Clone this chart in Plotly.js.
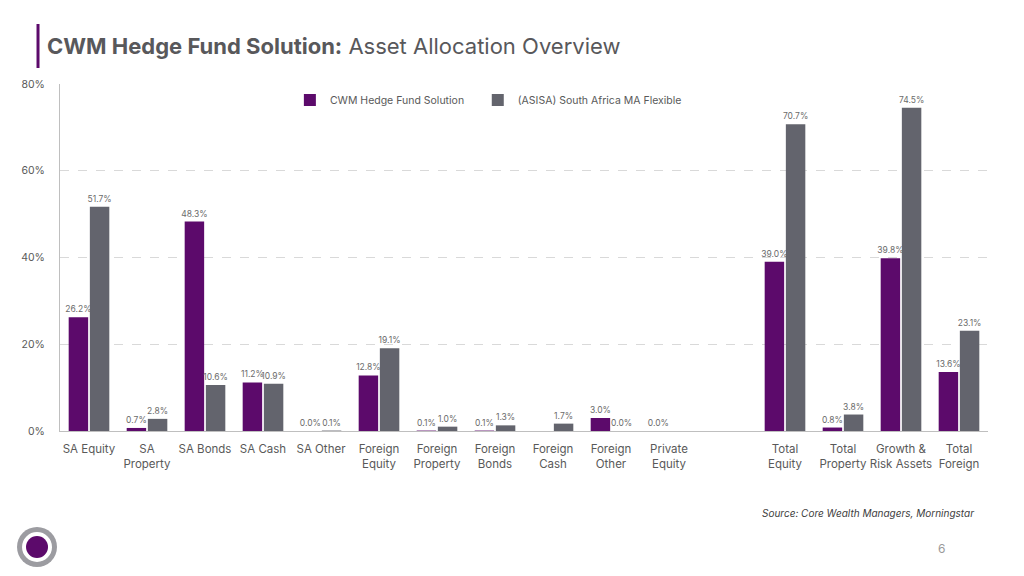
<!DOCTYPE html>
<html><head><meta charset="utf-8">
<script src="https://cdn.plot.ly/plotly-3.0.1.min.js"></script>
<style>body{margin:0;background:#fff}#c{width:1024px;height:576px}</style>
</head><body><div id="c"></div>
<script>
const categories = ["SA Equity","SA<br>Property","SA Bonds","SA Cash","SA Other","Foreign<br>Equity","Foreign<br>Property","Foreign<br>Bonds","Foreign<br>Cash","Foreign<br>Other","Private<br>Equity","","Total<br>Equity","Total<br>Property","Growth &<br>Risk Assets","Total<br>Foreign"];
const cwm =   [26.2, 0.7, 48.3, 11.2, 0.0, 12.8, 0.1, 0.1, null, 3.0, 0.0, null, 39.0, 0.8, 39.8, 13.6];
const asisa = [51.7, 2.8, 10.6, 10.9, 0.1, 19.1, 1.0, 1.3, 1.7, 0.0, null, null, 70.7, 3.8, 74.5, 23.1];
const seriesNames = ["CWM Hedge Fund Solution","(ASISA) South Africa MA Flexible"];
const yTicks = [0,20,40,60,80];

const xs = categories.map((c,i)=>i);
const font = "Inter, 'Noto Sans', sans-serif";
const L=60, R=988.5, T=84, B=431;
const px = v => (v-L)/(R-L), py = v => (B-v)/(B-T);

function tr(name, vals, color, lg){
  return {type:'bar', name:name, x:xs, y:vals, marker:{color:color}, legend:lg,
    text: vals.map(v=> v===null? '' : v.toFixed(1)+'%'), textposition:'outside', constraintext:'none',
    textfont:{size:8.5,color:'#6b6b6b',family:font}, cliponaxis:false, hoverinfo:'skip'};
}
const data=[tr(seriesNames[0],cwm,'#5c0a6b','legend'), tr(seriesNames[1],asisa,'#63646d','legend2')];
const legBase = {orientation:'h',xanchor:'left',y:py(100),yanchor:'middle',font:{size:10.5,color:'#595959'},bgcolor:'rgba(0,0,0,0)'};

const layout={
  width:1024,height:576,paper_bgcolor:'#fff',plot_bgcolor:'#fff',
  margin:{l:L,r:1024-R,t:T,b:576-B},
  font:{family:font,color:'#595959'},
  barmode:'group',bargap:0.27,bargroupgap:0.08,
  title:{text:"<b>CWM Hedge Fund Solution:</b> Asset Allocation Overview",x:47/1024,xanchor:'left',xref:'container',y:1-46/576,yanchor:'middle',yref:'container',font:{size:22,color:'#58585b',family:font}},
  showlegend:true,
  legend:Object.assign({x:px(290)},legBase),
  legend2:Object.assign({x:px(478)},legBase),
  xaxis:{range:[-0.5,categories.length-0.5],tickmode:'array',tickvals:xs,ticktext:categories,tickfont:{size:11.5,color:'#595959'},ticklabelstandoff:7,showgrid:false,zeroline:false,showline:true,linecolor:'#bfbfbf',linewidth:1,ticks:'',fixedrange:true},
  yaxis:{range:[0,80],tickvals:yTicks,ticktext:yTicks.map(v=>v+'%'),tickfont:{size:10.5,color:'#595959'},showgrid:true,gridcolor:'#d9d9d9',griddash:'dash',gridwidth:1,zeroline:false,showline:true,linecolor:'#bfbfbf',ticks:'',ticklabelstandoff:12},
  shapes:[
    {type:'line',xref:'paper',yref:'paper',x0:px(38),x1:px(38),y0:py(24),y1:py(68),line:{color:'#5c0a6b',width:3}},
    {type:'circle',xref:'paper',yref:'paper',x0:px(17),x1:px(57),y0:py(527),y1:py(567),fillcolor:'#9c9ca1',line:{width:0}},
    {type:'circle',xref:'paper',yref:'paper',x0:px(22),x1:px(52),y0:py(532),y1:py(562),fillcolor:'#ffffff',line:{width:0}},
    {type:'circle',xref:'paper',yref:'paper',x0:px(26),x1:px(48),y0:py(536),y1:py(558),fillcolor:'#5c0a6b',line:{width:0}}
  ],
  annotations:[
    {text:"<i>Source: Core Wealth Managers, Morningstar</i>",xref:'paper',yref:'paper',x:px(976),y:py(513),xanchor:'right',yanchor:'middle',showarrow:false,font:{size:10,color:'#404040'}},
    {text:"6",xref:'paper',yref:'paper',x:px(942),y:py(548),xanchor:'center',yanchor:'middle',showarrow:false,font:{size:12,color:'#9a9a9a'}}
  ]
};
Plotly.newPlot('c',data,layout,{displayModeBar:false,staticPlot:true});
</script></body></html>
